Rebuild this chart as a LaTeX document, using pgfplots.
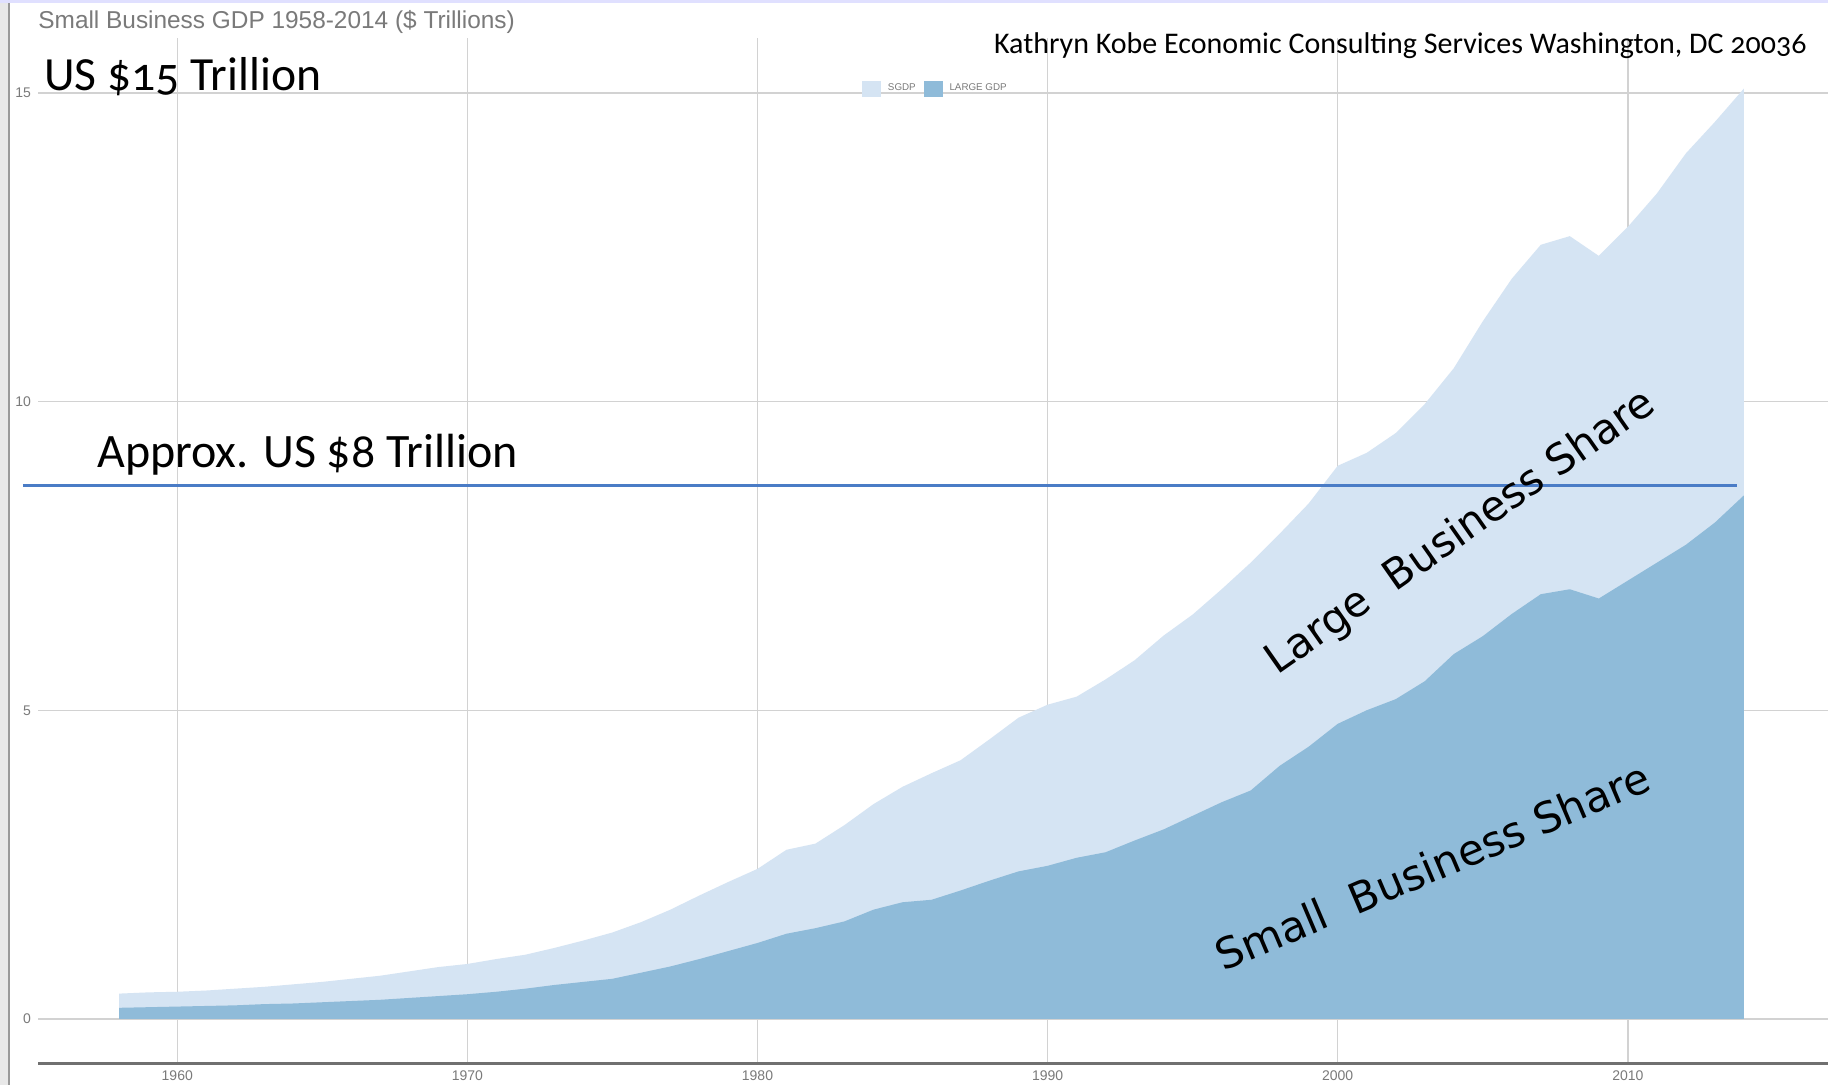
\documentclass[border=0pt]{standalone}
\usepackage{pgfplots}
\pgfplotsset{compat=1.18}
\usepackage{pgfplotstable}
\usepackage{fontspec}
\setmainfont{Carlito}[Numbers=OldStyle]
\newfontfamily\arial{Liberation Sans}
\newfontfamily\dejavu{DejaVu Sans}
\definecolor{lightA}{HTML}{D5E4F3}
\definecolor{darkA}{HTML}{8FBBD9}
\definecolor{gridc}{HTML}{D2D2D2}
\definecolor{txtgray}{HTML}{7A7A7A}
\definecolor{refblue}{HTML}{4A7CC6}
\definecolor{axisgray}{HTML}{707070}

\pgfplotstableread{
year total small
1958 0.41 0.18
1959 0.43 0.19
1960 0.44 0.20
1961 0.46 0.21
1962 0.49 0.22
1963 0.52 0.24
1964 0.56 0.25
1965 0.60 0.27
1966 0.65 0.29
1967 0.70 0.31
1968 0.77 0.34
1969 0.84 0.37
1970 0.89 0.40
1971 0.97 0.44
1972 1.04 0.49
1973 1.15 0.55
1974 1.27 0.60
1975 1.40 0.65
1976 1.57 0.75
1977 1.77 0.85
1978 2.00 0.97
1979 2.22 1.10
1980 2.43 1.23
1981 2.74 1.38
1982 2.84 1.47
1983 3.14 1.58
1984 3.48 1.77
1985 3.76 1.89
1986 3.98 1.93
1987 4.19 2.08
1988 4.53 2.24
1989 4.88 2.39
1990 5.09 2.48
1991 5.22 2.61
1992 5.50 2.70
1993 5.81 2.89
1994 6.21 3.07
1995 6.55 3.29
1996 6.96 3.51
1997 7.39 3.70
1998 7.86 4.10
1999 8.35 4.41
2000 8.96 4.78
2001 9.17 5.00
2002 9.49 5.18
2003 9.96 5.47
2004 10.54 5.91
2005 11.30 6.20
2006 11.99 6.56
2007 12.54 6.88
2008 12.68 6.96
2009 12.36 6.81
2010 12.83 7.10
2011 13.37 7.39
2012 14.02 7.68
2013 14.53 8.04
2014 15.07 8.48
}\gdp

\begin{document}
\begin{tikzpicture}[x=0.5pt,y=0.5pt]
\path[use as bounding box, fill=white] (0,0) rectangle (1828,1085);
\fill[black!9] (0,0) rectangle (8,1085);
\draw[black!40, line width=1pt] (9,0) -- (9,1085);
\fill[blue!12] (0,1082) rectangle (1828,1085);

\begin{axis}[
  at={(19pt,10.5pt)}, anchor=south west,
  scale only axis, width=895pt, height=513pt,
  xmin=1955.2, xmax=2016.9, ymin=-0.73, ymax=15.89,
  clip=false,
  axis line style={draw=none},
  tick style={draw=none},
  xtick={1960,1970,1980,1990,2000,2010},
  ytick={0,5,10,15},
  xmajorgrids, ymajorgrids,
  major grid style={gridc, line width=0.7pt},
  x tick label style={/pgf/number format/1000 sep={}},
  /pgf/number format/assume math mode=true,
  ticklabel style={font=\arial\fontsize{7}{8}\selectfont, text=txtgray},
  legend style={draw=none, fill=none, at={(0.4602,0.9506)}, anchor=west,
    inner sep=0pt, font=\arial\fontsize{4.9}{5.5}\selectfont, text=txtgray,
    legend columns=2,
    nodes={inner sep=0pt},
    /tikz/every odd column/.append style={column sep=3.5pt},
    /tikz/every even column/.append style={column sep=4pt}},
  legend image code/.code={\fill[#1] (0pt,-4pt) rectangle (9.4pt,4pt);},
]
\addplot[fill=lightA, draw=none] table[x=year,y=total]{\gdp} \closedcycle;
\addlegendentry{SGDP}
\addplot[fill=darkA, draw=none] table[x=year,y=small]{\gdp} \closedcycle;
\addlegendentry{LARGE GDP}
\addplot[forget plot, refblue, line width=1.2pt] coordinates {(1954.68,8.64) (2013.75,8.64)};
\draw[axisgray, line width=1.5pt] (rel axis cs:0,0) -- (rel axis cs:1,0);
\end{axis}

\node[anchor=base west, inner sep=0, font=\arial\fontsize{12.2}{14}\selectfont, text=txtgray] at (38,1056.4) {Small Business GDP 1958-2014 (\$ Trillions)};
\node[anchor=base west, inner sep=0, font=\fontsize{23.8}{28}\selectfont] at (44,994) {US \$15 Trillion};
\node[anchor=base east, inner sep=0, font=\fontsize{15}{18}\selectfont] at (1807,1031.4) {Kathryn Kobe Economic Consulting Services Washington, DC 20036};
\node[anchor=base west, inner sep=0, font=\fontsize{24}{28}\selectfont] at (97,617.5) {Approx. US \$8 Trillion};
\node[anchor=base west, inner sep=0, rotate=35, font=\dejavu\fontsize{21}{25}\selectfont] at (1277,409) {Large\ \ Business Share};
\node[anchor=base west, inner sep=0, rotate=23, font=\dejavu\fontsize{21.2}{25}\selectfont] at (1223,113) {Small\ \ Business Share};
\end{tikzpicture}
\end{document}
